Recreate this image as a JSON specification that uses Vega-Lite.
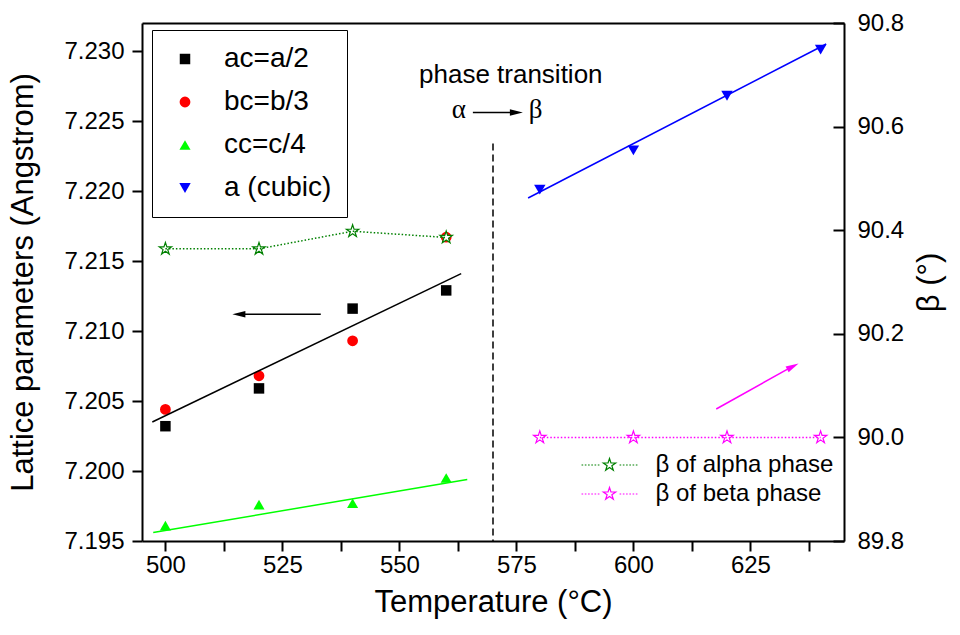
{
  "$schema": "https://vega.github.io/schema/vega-lite/v6.json",
  "width": 702,
  "height": 518,
  "autosize": {"type": "none"},
  "padding": {"left": 142, "top": 23, "right": 116, "bottom": 94},
  "background": "white",
  "config": {
    "font": "Liberation Sans",
    "view": {"stroke": null},
    "axis": {
      "grid": false,
      "domainColor": "black",
      "domainWidth": 2,
      "labelColor": "black",
      "titleColor": "black",
      "labelFont": "Liberation Sans",
      "titleFont": "Liberation Sans",
      "titleFontWeight": "normal",
      "labelFontSize": 24,
      "titleFontSize": 31,
      "labelFlush": false,
      "labelOverlap": false
    },
    "legend": {"labelFont": "Liberation Sans", "labelColor": "black", "labelLimit": 0}
  },
  "datasets": {
    "pts": [
      {"s": "ac=a/2", "T": 500, "v": 7.2032},
      {"s": "ac=a/2", "T": 520, "v": 7.2059},
      {"s": "ac=a/2", "T": 540, "v": 7.2116},
      {"s": "ac=a/2", "T": 560, "v": 7.2129},
      {"s": "bc=b/3", "T": 500, "v": 7.2044},
      {"s": "bc=b/3", "T": 520, "v": 7.2068},
      {"s": "bc=b/3", "T": 540, "v": 7.2093},
      {"s": "bc=b/3", "T": 560, "v": 7.2167},
      {"s": "cc=c/4", "T": 500, "v": 7.1961},
      {"s": "cc=c/4", "T": 520, "v": 7.1976},
      {"s": "cc=c/4", "T": 540, "v": 7.1977},
      {"s": "cc=c/4", "T": 560, "v": 7.1995},
      {"s": "a (cubic)", "T": 580, "v": 7.2201},
      {"s": "a (cubic)", "T": 600, "v": 7.2229},
      {"s": "a (cubic)", "T": 620, "v": 7.2268},
      {"s": "a (cubic)", "T": 640, "v": 7.2301}
    ],
    "fits": [
      {"fit": "a", "T": 497.2, "v": 7.2035},
      {"fit": "a", "T": 563.2, "v": 7.2141},
      {"fit": "c", "T": 497.4, "v": 7.1956},
      {"fit": "c", "T": 564.5, "v": 7.1994},
      {"fit": "cubic", "T": 577.5, "v": 7.2195},
      {"fit": "cubic", "T": 641.2, "v": 7.2305}
    ],
    "betas": [
      {"g": "β of alpha phase", "T": 500, "b": 90.364},
      {"g": "β of alpha phase", "T": 520, "b": 90.364},
      {"g": "β of alpha phase", "T": 540, "b": 90.398},
      {"g": "β of alpha phase", "T": 560, "b": 90.386},
      {"g": "β of beta phase", "T": 580, "b": 90.0},
      {"g": "β of beta phase", "T": 600, "b": 90.0},
      {"g": "β of beta phase", "T": 620, "b": 90.0},
      {"g": "β of beta phase", "T": 640, "b": 90.0}
    ]
  },
  "layer": [
    {
      "layer": [
        {
          "data": {"name": "pts"},
          "mark": {"type": "point", "filled": true, "opacity": 1},
          "encoding": {
            "x": {
              "field": "T", "type": "quantitative",
              "scale": {"domain": [495, 645], "nice": false, "zero": false},
              "axis": {
                "orient": "bottom",
                "ticks": true,
                "tickColor": "black",
                "tickWidth": 2,
                "title": "Temperature (°C)",
                "values": [500, 512.5, 525, 537.5, 550, 562.5, 575, 587.5, 600, 612.5, 625, 637.5],
                "format": "d",
                "labelExpr": "datum.value % 25 == 0 ? datum.label : ''",
                "tickSize": 10,
                "labelPadding": 2,
                "titlePadding": 10
              }
            },
            "y": {
              "field": "v", "type": "quantitative",
              "scale": {"domain": [7.195, 7.232], "nice": false, "zero": false},
              "axis": {
                "orient": "left",
                "ticks": true,
                "tickColor": "black",
                "tickWidth": 2,
                "title": "Lattice parameters (Angstrom)",
                "tickCount": 8,
                "format": ".3f",
                "tickSize": 10,
                "labelPadding": 8,
                "titlePadding": 24
              }
            },
            "color": {
              "field": "s", "type": "nominal",
              "scale": {"domain": ["ac=a/2", "bc=b/3", "cc=c/4", "a (cubic)"], "range": ["#000000", "#ff0000", "#00ff00", "#0000ff"]},
              "legend": {
                "title": null, "orient": "none", "legendX": 10, "legendY": 7,
                "strokeColor": "black", "padding": 15, "symbolOffset": 4, "labelOffset": 25,
                "labelFontSize": 28, "rowPadding": 15, "symbolSize": 130, "symbolStrokeWidth": 0
              }
            },
            "shape": {
              "field": "s", "type": "nominal",
              "scale": {"domain": ["ac=a/2", "bc=b/3", "cc=c/4", "a (cubic)"], "range": ["square", "circle", "triangle-up", "triangle-down"]},
              "legend": {
                "title": null, "orient": "none", "legendX": 10, "legendY": 7,
                "strokeColor": "black", "padding": 15, "symbolOffset": 4, "labelOffset": 25,
                "labelFontSize": 28, "rowPadding": 15, "symbolSize": 130, "symbolStrokeWidth": 0
              }
            },
            "size": {
              "field": "s", "type": "nominal",
              "scale": {"domain": ["ac=a/2", "bc=b/3", "cc=c/4", "a (cubic)"], "range": [110, 130, 260, 260]},
              "legend": null
            }
          }
        },
        {
          "data": {"name": "fits"},
          "transform": [{"filter": "datum.fit == 'a'"}],
          "mark": {"type": "line", "color": "#000000", "strokeWidth": 1.5},
          "encoding": {"x": {"field": "T", "type": "quantitative"}, "y": {"field": "v", "type": "quantitative"}}
        },
        {
          "data": {"name": "fits"},
          "transform": [{"filter": "datum.fit == 'c'"}],
          "mark": {"type": "line", "color": "#00ff00", "strokeWidth": 1.5},
          "encoding": {"x": {"field": "T", "type": "quantitative"}, "y": {"field": "v", "type": "quantitative"}}
        },
        {
          "data": {"name": "fits"},
          "transform": [{"filter": "datum.fit == 'cubic'"}],
          "mark": {"type": "line", "color": "#0000ff", "strokeWidth": 1.5},
          "encoding": {"x": {"field": "T", "type": "quantitative"}, "y": {"field": "v", "type": "quantitative"}}
        },
        {
          "data": {"values": [{}]},
          "mark": {"type": "rule", "color": "black", "strokeWidth": 1.5, "strokeDash": [7, 4]},
          "encoding": {
            "x": {"datum": 570, "type": "quantitative"},
            "y": {"datum": 7.2234, "type": "quantitative"},
            "y2": {"datum": 7.195}
          }
        },
        {
          "data": {"values": [{}]},
          "mark": {"type": "rule", "color": "black", "strokeWidth": 1.5},
          "encoding": {
            "x": {"datum": 533.2, "type": "quantitative"},
            "x2": {"datum": 516.5},
            "y": {"datum": 7.2112, "type": "quantitative"}
          }
        },
        {
          "data": {"values": [{}]},
          "mark": {"type": "point", "filled": true, "color": "black", "opacity": 1, "size": 169, "shape": "M-1,0L1,-0.5L1,0.5Z"},
          "encoding": {
            "x": {"datum": 515.7, "type": "quantitative"},
            "y": {"datum": 7.2112, "type": "quantitative"}
          }
        },
        {
          "data": {"values": [{}]},
          "mark": {"type": "rule", "color": "black", "strokeWidth": 1.5},
          "encoding": {
            "x": {"datum": 565.7, "type": "quantitative"},
            "x2": {"datum": 574.5},
            "y": {"datum": 7.2256, "type": "quantitative"}
          }
        },
        {
          "data": {"values": [{}]},
          "mark": {"type": "point", "filled": true, "color": "black", "opacity": 1, "size": 169, "shape": "M1,0L-1,-0.5L-1,0.5Z"},
          "encoding": {
            "x": {"datum": 575.0, "type": "quantitative"},
            "y": {"datum": 7.2256, "type": "quantitative"}
          }
        },
        {
          "data": {"values": [{}]},
          "mark": {"type": "text", "text": "phase transition", "font": "Liberation Sans", "fontSize": 26, "align": "center", "baseline": "middle", "color": "black"},
          "encoding": {
            "x": {"datum": 573.8, "type": "quantitative"},
            "y": {"datum": 7.2283, "type": "quantitative"}
          }
        },
        {
          "data": {"values": [{}]},
          "mark": {"type": "text", "text": "α", "font": "Liberation Serif", "fontSize": 27, "align": "center", "baseline": "middle", "color": "black"},
          "encoding": {
            "x": {"datum": 562.7, "type": "quantitative"},
            "y": {"datum": 7.2258, "type": "quantitative"}
          }
        },
        {
          "data": {"values": [{}]},
          "mark": {"type": "text", "text": "β", "font": "Liberation Serif", "fontSize": 27, "align": "center", "baseline": "middle", "color": "black"},
          "encoding": {
            "x": {"datum": 579.1, "type": "quantitative"},
            "y": {"datum": 7.2258, "type": "quantitative"}
          }
        }
      ]
    },
    {
      "layer": [
        {
          "data": {"name": "betas"},
          "mark": {"type": "point", "filled": false, "size": 169, "strokeWidth": 1.2, "opacity": 1, "fill": "white", "shape": "M0,-1L0.2245,-0.309L0.951,-0.309L0.363,0.118L0.588,0.809L0,0.382L-0.588,0.809L-0.363,0.118L-0.951,-0.309L-0.2245,-0.309Z"},
          "encoding": {
            "x": {
              "field": "T", "type": "quantitative",
              "scale": {"domain": [495, 645], "nice": false, "zero": false},
              "axis": {
                "orient": "top", "title": null, "labels": false, "ticks": false
              }
            },
            "y": {
              "field": "b", "type": "quantitative",
              "scale": {"domain": [89.8, 90.8], "nice": false, "zero": false},
              "axis": {
                "orient": "right",
                "ticks": true,
                "tickColor": "black", "tickWidth": 2,
                "title": "β (°)",
                "titleAngle": 270,
                "tickCount": 5,
                "format": ".1f",
                "tickSize": -11,
                "labelPadding": 24,
                "titlePadding": 42
              }
            },
            "stroke": {
              "field": "g", "type": "nominal",
              "scale": {"domain": ["β of alpha phase", "β of beta phase"], "range": ["#008000", "#ff00ff"]},
              "legend": {
                "title": null, "orient": "none", "legendX": 450, "legendY": 430,
                "padding": 0, "symbolOffset": 5.5, "labelOffset": 34, "labelLimit": 0,
                "labelFontSize": 24, "rowPadding": 5, "symbolSize": 169, "symbolStrokeWidth": 1.2,
                "symbolFillColor": "white",
                "symbolType": "M-4.3,0h0.25M-3.8,0h0.25M-3.3,0h0.25M-2.8,0h0.25M-2.3,0h0.25M-1.8,0h0.25M1.55,0h0.25M2.05,0h0.25M2.55,0h0.25M3.05,0h0.25M3.55,0h0.25M4.05,0h0.25M0,-1L0.2245,-0.309L0.951,-0.309L0.363,0.118L0.588,0.809L0,0.382L-0.588,0.809L-0.363,0.118L-0.951,-0.309L-0.2245,-0.309Z"
              }
            }
          }
        },
        {
          "data": {"name": "betas"},
          "transform": [{"filter": "datum.g == 'β of alpha phase'"}],
          "mark": {"type": "line", "color": "#008000", "strokeWidth": 1.5, "strokeDash": [1.5, 2]},
          "encoding": {
            "x": {"field": "T", "type": "quantitative"},
            "y": {"field": "b", "type": "quantitative"}
          }
        },
        {
          "data": {"name": "betas"},
          "transform": [{"filter": "datum.g == 'β of beta phase'"}],
          "mark": {"type": "line", "color": "#ff00ff", "strokeWidth": 1.5, "strokeDash": [1.5, 2]},
          "encoding": {
            "x": {"field": "T", "type": "quantitative"},
            "y": {"field": "b", "type": "quantitative"}
          }
        },
        {
          "data": {"values": [{}]},
          "mark": {"type": "rule", "color": "#ff00ff", "strokeWidth": 1.5},
          "encoding": {
            "x": {"datum": 617.7, "type": "quantitative"},
            "x2": {"datum": 634.0},
            "y": {"datum": 90.0548, "type": "quantitative"},
            "y2": {"datum": 90.137}
          }
        },
        {
          "data": {"values": [{}]},
          "mark": {"type": "point", "filled": true, "color": "#ff00ff", "opacity": 1, "size": 169, "angle": 332, "shape": "M1,0L-1,-0.5L-1,0.5Z"},
          "encoding": {
            "x": {"datum": 634.07, "type": "quantitative"},
            "y": {"datum": 90.137, "type": "quantitative"}
          }
        }
      ]
    }
  ],
  "resolve": {"scale": {"y": "independent"}, "axis": {"x": "independent", "y": "independent"}}
}
